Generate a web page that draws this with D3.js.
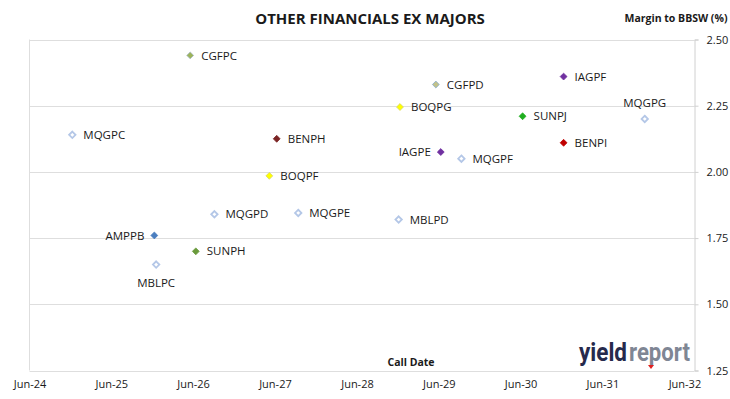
<!DOCTYPE html>
<html>
<head>
<meta charset="utf-8">
<script src="https://cdn.jsdelivr.net/npm/d3@7"></script>
<style>
  body { margin: 0; background: #fff; }
  svg text { font-family: "Open Sans", sans-serif; fill: #1a1a1a; }
</style>
</head>
<body>
<div id="chart"></div>
<script>
// hybrid securities, call date vs margin
var bonds = ["MQGPC", "CGFPC", "AMPPB", "MBLPC", "SUNPH", "MQGPD", "BOQPF", "BENPH", "MQGPE",
             "MBLPD", "BOQPG", "CGFPD", "IAGPE", "MQGPF", "SUNPJ", "IAGPF", "BENPI", "MQGPG"];
var callDates = ["2024-12-09", "2026-05-19", "2025-12-10", "2025-12-18", "2026-06-13", "2026-09-04",
                 "2027-05-07", "2027-06-09", "2027-09-13", "2028-12-04", "2028-12-10", "2029-05-19",
                 "2029-06-10", "2029-09-10", "2030-06-10", "2030-12-10", "2030-12-10", "2031-12-07"];
var margins = [2.14, 2.44, 1.76, 1.65, 1.70, 1.84, 1.985, 2.125, 1.845,
               1.82, 2.245, 2.33, 2.075, 2.05, 2.21, 2.36, 2.11, 2.20];

var xTickDates = ["2024-06-01", "2025-06-01", "2026-06-01", "2027-06-01", "2028-06-01",
                  "2029-06-01", "2030-06-01", "2031-06-01", "2032-06-01"];
var yTicks = [1.25, 1.50, 1.75, 2.00, 2.25, 2.50];

// marker colours: [fill, stroke]; hollow ones get white fill
var colours = {
    CGFPC: ["#9cb45a", "#a6b8c4"], CGFPD: ["#c2c28a", "#86acd0"],
    BOQPF: ["#ffff00", "#d6d66a"], BOQPG: ["#ffff00", "#d6d66a"],
    BENPH: ["#7b2424", "#7b2424"], BENPI: ["#c00000", "#c00000"],
    IAGPE: ["#7030a0", "#7030a0"], IAGPF: ["#7030a0", "#7030a0"],
    SUNPH: ["#6a9a3c", "#6a9a3c"], SUNPJ: ["#1fae1f", "#1fae1f"],
    AMPPB: ["#4a7ebf", "#4a7ebf"]
};
var hollowStroke = "#b4c7e7";
// where the label goes when not to the right
var labelSide = { IAGPE: "left", AMPPB: "left", MBLPC: "below", MQGPG: "above" };

var W = 730, H = 399;
var parse = d3.timeParse("%Y-%m-%d");

var svg = d3.select("#chart").append("svg")
    .attr("width", W)
    .attr("height", H);

var x = d3.scaleTime()
    .domain([parse("2024-06-01"), parse("2032-07-16")])
    .range([29.5, 694.5]);
var y = d3.scaleLinear()
    .domain([1.25, 2.5])
    .range([370.5, 39.5]);

// gridlines
svg.append("g").selectAll("line")
    .data(yTicks)
    .enter().append("line")
    .attr("x1", x.range()[0])
    .attr("x2", x.range()[1])
    .attr("y1", function (d) { return Math.round(y(d)) + 0.5; })
    .attr("y2", function (d) { return Math.round(y(d)) + 0.5; })
    .attr("stroke", "#dedede");

svg.append("line")
    .attr("x1", x.range()[0]).attr("x2", x.range()[0])
    .attr("y1", y.range()[1]).attr("y2", y.range()[0])
    .attr("stroke", "#dedede");

// right hand value axis
var yAxis = d3.axisRight(y)
    .tickValues(yTicks)
    .tickFormat(d3.format(".2f"))
    .tickSize(4)
    .tickPadding(8);
var ya = svg.append("g")
    .attr("transform", "translate(" + x.range()[1] + ",0)")
    .call(yAxis);
ya.select(".domain").attr("stroke", "#d0d0d0");
ya.selectAll(".tick line").attr("stroke", "#d0d0d0");
ya.selectAll(".tick text")
    .style("font-size", "11px")
    .attr("fill", "#1a1a1a");

// date axis, labels only
var xAxis = d3.axisBottom(x)
    .tickValues(xTickDates.map(parse))
    .tickFormat(d3.timeFormat("%b-%y"))
    .tickSize(0)
    .tickPadding(10);
var xa = svg.append("g")
    .attr("transform", "translate(0," + y.range()[0] + ")")
    .call(xAxis);
xa.select(".domain").remove();
xa.selectAll(".tick text")
    .style("font-size", "11px")
    .attr("fill", "#1a1a1a");

// points
var data = bonds.map(function (b, i) {
    return { name: b, date: parse(callDates[i]), margin: margins[i] };
});

var diamond = d3.symbol().type(d3.symbolDiamond2);

var pts = svg.append("g").selectAll("g")
    .data(data)
    .enter().append("g")
    .attr("transform", function (d) {
        return "translate(" + x(d.date) + "," + y(d.margin) + ")";
    });

pts.append("path")
    .attr("d", function (d) { return diamond.size(colours[d.name] ? 30 : 26)(); })
    .attr("fill", function (d) { return colours[d.name] ? colours[d.name][0] : "#fff"; })
    .attr("stroke", function (d) { return colours[d.name] ? colours[d.name][1] : hollowStroke; })
    .attr("stroke-width", function (d) { return colours[d.name] ? 0.8 : 1.8; });

pts.append("text")
    .style("font-size", "11.5px")
    .attr("x", function (d) {
        var s = labelSide[d.name];
        if (s === "left") return -10;
        if (s === "below" || s === "above") return 0;
        return 11;
    })
    .attr("y", function (d) {
        var s = labelSide[d.name];
        if (s === "below") return 18;
        if (s === "above") return -16;
        return 0;
    })
    .attr("dy", "0.36em")
    .attr("text-anchor", function (d) {
        var s = labelSide[d.name];
        if (s === "left") return "end";
        if (s === "below" || s === "above") return "middle";
        return "start";
    })
    .text(function (d) { return d.name; });

// titles
svg.append("text")
    .attr("x", 370).attr("y", 24)
    .attr("text-anchor", "middle")
    .style("font-size", "15px")
    .style("font-weight", "bold")
    .text("OTHER FINANCIALS EX MAJORS");

svg.append("text")
    .attr("x", 676).attr("y", 22)
    .attr("text-anchor", "middle")
    .style("font-size", "10.5px")
    .style("font-weight", "bold")
    .text("Margin to BBSW (%)");

svg.append("text")
    .attr("x", 411).attr("y", 366)
    .attr("text-anchor", "middle")
    .style("font-size", "10.5px")
    .style("font-weight", "bold")
    .text("Call Date");

// yieldreport logo
var logo = svg.append("g").attr("transform", "translate(579,361)");
logo.append("text")
    .attr("x", 0).attr("y", 0)
    .attr("textLength", 48)
    .attr("lengthAdjust", "spacingAndGlyphs")
    .style("font-family", "Roboto, sans-serif")
    .style("font-size", "26px")
    .style("font-weight", "bold")
    .style("fill", "#262a4c")
    .text("yield");
logo.append("text")
    .attr("x", 50).attr("y", 0)
    .attr("textLength", 61)
    .attr("lengthAdjust", "spacingAndGlyphs")
    .style("font-family", "Roboto, sans-serif")
    .style("font-size", "26px")
    .style("font-weight", "bold")
    .style("fill", "#7f8694")
    .text("report");
logo.append("path")
    .attr("d", "M69,4 l6,0 l-3,4 z")
    .attr("fill", "#e02020");
</script>
</body>
</html>
